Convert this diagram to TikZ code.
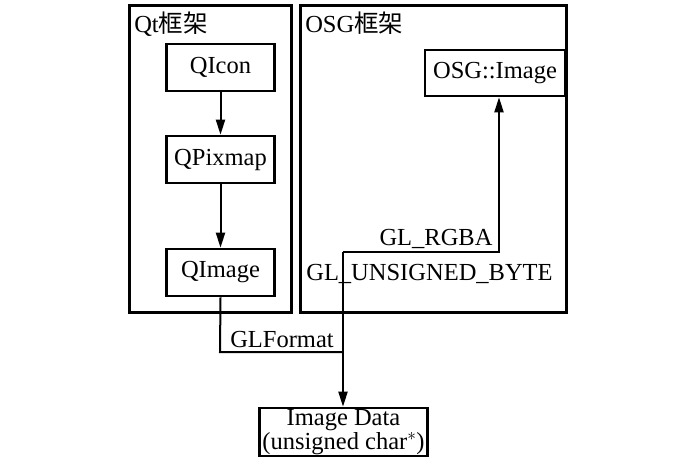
\documentclass[tikz,border=0pt]{standalone}
\usepackage{fontspec}
\setmainfont{Liberation Serif}
\newfontfamily\cjk{Noto Sans CJK SC}
\usetikzlibrary{arrows.meta}
\begin{document}
\begin{tikzpicture}[x=1pt,y=-1pt,line width=2.6pt,
  every node/.style={font=\fontsize{24.5}{24}\selectfont,inner sep=0pt},
  box/.style={draw,minimum width=108pt,minimum height=47pt},
  arr/.style={-{Triangle[width=9pt,length=15pt]},line width=2pt},
  lin/.style={line width=2pt}]
\useasboundingbox (0,0) rectangle (700,464);
\node[draw,minimum width=162pt,minimum height=307pt] (qt) at (210.5,159) {};
\node[draw,minimum width=266pt,minimum height=307pt] (osg) at (433.5,159) {};
\node[anchor=north west] (qtl) at (133,11) {Qt{\cjk 框架}};
\node[anchor=north west] (osgl) at (304,11) {OSG{\cjk 框架}};
\node[box] (qicon) at (220.5,67.5) {QIcon};
\node[box] (qpix) at (220.5,159.5) {QPixmap};
\node[box] (qimg) at (220.5,272.5) {QImage};
\node[draw,minimum width=140pt,minimum height=46pt] (osgimg) at (495,73) {OSG::Image};
\node[draw,minimum width=168pt,minimum height=48pt,align=center,font=\fontsize{24.5}{21.5}\selectfont] (data) at (343.5,432) {Image Data\\(unsigned char$^{*}$)};
\coordinate (c1) at (220,352);
\coordinate (c2) at (343,352);
\coordinate (c3) at (343,252);
\coordinate (c4) at (499,252);
\draw[arr] (qicon) -- (qpix);
\draw[arr] (qpix) -- (qimg);
\draw[lin] (qimg.south) -- (c1) -- (c2);
\draw[arr] (c3) -- (c3 |- data.north);
\draw[arr] (c3) -- (c4) -- (c4 |- osgimg.south);
\node[anchor=base] (glf) at (282,347) {GLFormat};
\node[anchor=base] (rgba) at (436,245) {GL\_RGBA};
\node[anchor=base] (ub) at (429.5,280) {GL\_UNSIGNED\_BYTE};
\end{tikzpicture}
\end{document}
